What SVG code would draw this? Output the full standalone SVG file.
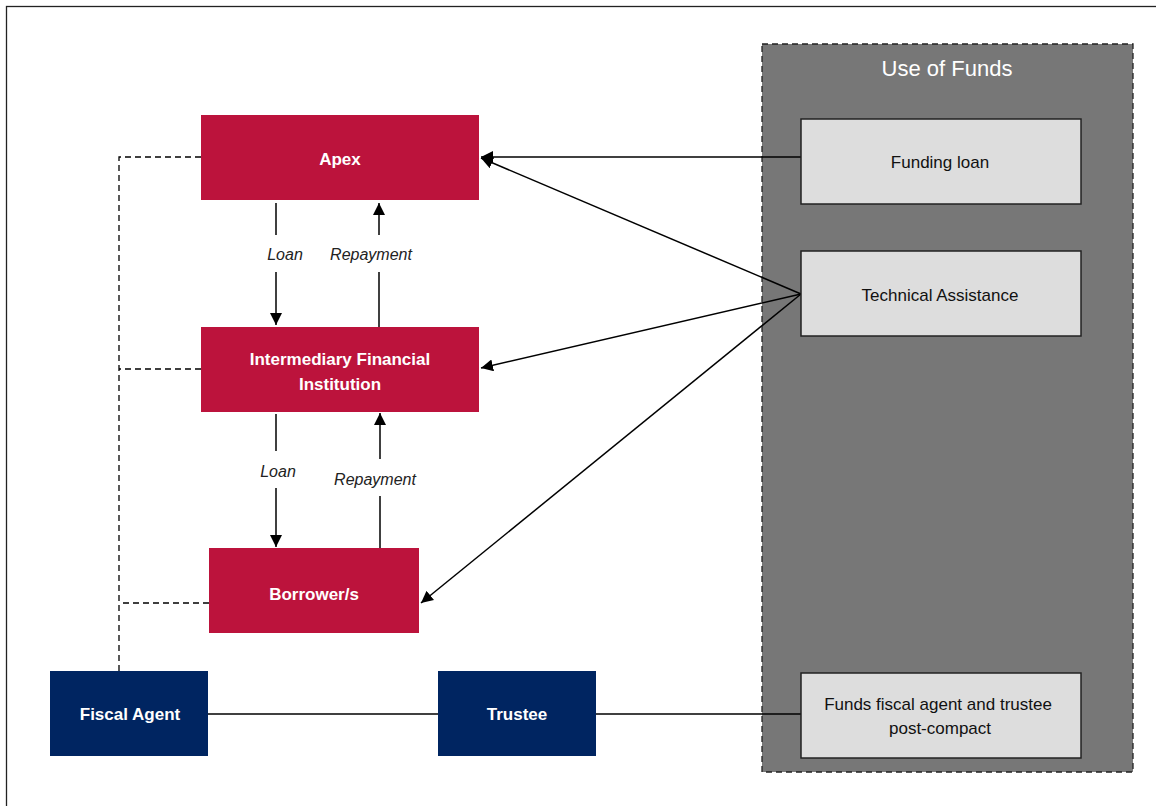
<svg xmlns="http://www.w3.org/2000/svg" width="1156" height="806" viewBox="0 0 1156 806">
<style>
.red{fill:#bc133c}
.navy{fill:#002561}
.grey{fill:#dddddd;stroke:#222;stroke-width:1.5}
.wt{font-family:"Liberation Sans Narrow","Liberation Sans",Arial,sans-serif;fill:#fff;font-size:17px;text-anchor:middle}
.bt{font-family:"Liberation Sans Narrow","Liberation Sans",Arial,sans-serif;fill:#111;font-size:17px;text-anchor:middle}
.lb{font-family:"Liberation Sans Narrow","Liberation Sans",Arial,sans-serif;fill:#222;font-size:16px;font-style:italic;text-anchor:middle}
.ln{stroke:#000;stroke-width:1.5;fill:none}
.dash{stroke:#000;stroke-width:1.3;fill:none;stroke-dasharray:6,4}
</style>
<defs>
<marker id="ah" viewBox="0 0 10 10" refX="10" refY="5" markerWidth="8" markerHeight="8" markerUnits="userSpaceOnUse" orient="auto">
<path d="M0,0 L10,5 L0,10 z" fill="#000"/>
</marker>
<marker id="ah2" viewBox="0 0 10 10" refX="10" refY="5" markerWidth="12" markerHeight="12" markerUnits="userSpaceOnUse" orient="auto">
<path d="M0,0 L10,5 L0,10 z" fill="#000"/>
</marker>
</defs>
<rect x="0" y="0" width="1156" height="806" fill="#fff"/>
<rect x="6.5" y="6.5" width="1160" height="820" fill="none" stroke="#222" stroke-width="1.3"/>

<g id="use-of-funds">
<rect x="762" y="44" width="371" height="728" fill="#777777" stroke="#222" stroke-width="1.3" stroke-dasharray="6,4"/>
<text class="wt" x="947" y="76" style="font-size:22px">Use of Funds</text>
</g>

<g id="connectors">
<path class="dash" d="M201,157 H119 V687"/>
<path class="dash" d="M201,369 H119"/>
<path class="dash" d="M209,603 H119"/>
<path class="ln" d="M276,203 V235"/>
<path class="ln" d="M276,272 V325" marker-end="url(#ah2)"/>
<path class="ln" d="M379,235 V203" marker-end="url(#ah2)"/>
<path class="ln" d="M379,272 V327"/>
<path class="ln" d="M276,414 V451"/>
<path class="ln" d="M276,488 V547" marker-end="url(#ah2)"/>
<path class="ln" d="M380,459 V413" marker-end="url(#ah2)"/>
<path class="ln" d="M380,496 V548"/>
<path class="ln" d="M801,157 H481" marker-end="url(#ah2)" stroke-width="1.3"/>
<path class="ln" d="M801,294 L481,158" marker-end="url(#ah2)" stroke-width="1.3"/>
<path class="ln" d="M801,294 L481,368" marker-end="url(#ah2)" stroke-width="1.3"/>
<path class="ln" d="M801,294 L421,603" marker-end="url(#ah2)" stroke-width="1.3"/>
<path class="ln" d="M208,714 H438" stroke-width="2"/>
<path class="ln" d="M596,714 H801" stroke-width="2"/>
<text class="lb" x="285" y="260">Loan</text>
<text class="lb" x="371" y="260">Repayment</text>
<text class="lb" x="278" y="477">Loan</text>
<text class="lb" x="375" y="485">Repayment</text>
</g>

<g id="apex">
<rect class="red" x="201" y="115" width="278" height="85"/>
<text class="wt" x="340" y="165" font-weight="bold">Apex</text>
</g>
<g id="ifi">
<rect class="red" x="201" y="327" width="278" height="85"/>
<text class="wt" x="340" y="365" font-weight="bold">Intermediary Financial</text>
<text class="wt" x="340" y="390" font-weight="bold">Institution</text>
</g>
<g id="borrowers">
<rect class="red" x="209" y="548" width="210" height="85"/>
<text class="wt" x="314" y="600" font-weight="bold">Borrower/s</text>
</g>
<g id="fiscal-agent">
<rect class="navy" x="50" y="671" width="158" height="85"/>
<text class="wt" x="130" y="720" font-weight="bold">Fiscal Agent</text>
</g>
<g id="trustee">
<rect class="navy" x="438" y="671" width="158" height="85"/>
<text class="wt" x="517" y="720" font-weight="bold">Trustee</text>
</g>
<g id="funding-loan">
<rect class="grey" x="801" y="119" width="280" height="85"/>
<text class="bt" x="940" y="168">Funding loan</text>
</g>
<g id="technical-assistance">
<rect class="grey" x="801" y="251" width="280" height="85"/>
<text class="bt" x="940" y="301">Technical Assistance</text>
</g>
<g id="funds-fiscal">
<rect class="grey" x="801" y="673" width="280" height="85"/>
<text class="bt" x="938" y="710">Funds fiscal  agent and trustee</text>
<text class="bt" x="940" y="734">post-compact</text>
</g>
</svg>
